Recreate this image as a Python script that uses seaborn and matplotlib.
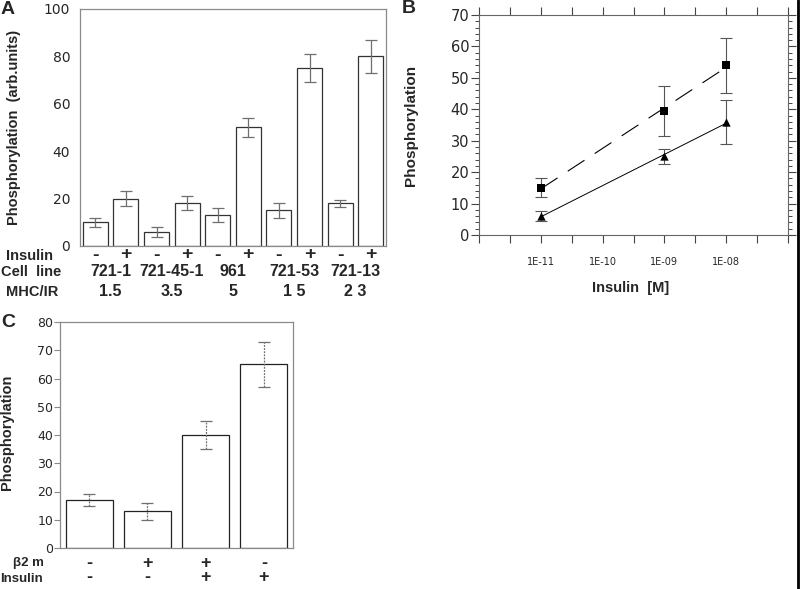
import numpy as np
import pandas as pd
import matplotlib
matplotlib.use("Agg")
import matplotlib.pyplot as plt
import matplotlib.transforms as mtransforms
from matplotlib.lines import Line2D
from matplotlib.ticker import FixedLocator, MultipleLocator, NullFormatter
import seaborn as sns

# ==========================================
# DATA
# ==========================================

# Panel A - insulin stimulated phosphorylation per cell line
a_insulin = ["-", "+", "-", "+", "-", "+", "-", "+", "-", "+"]
a_values = [10, 20, 6, 18, 13, 50, 15, 75, 18, 80]
a_errors = [2, 3, 2, 3, 3, 4, 3, 6, 1.5, 7]
a_cell_lines = ["721-1", "721-45-1", "961", "721-53", "721-13"]
a_mhc_ir = ["1.5", "3.5", "5", "1 5", "2 3"]

# Panel B - dose response
b_insulin = [1e-11, 1e-9, 1e-8]
b_square = [15, 39.5, 54]
b_square_err = [3, 7.9, 8.7]
b_triangle = [6, 25, 36]
b_triangle_err = [1.5, 2.4, 7.1]
b_tick_labels = ["1E-11", "1E-10", "1E-09", "1E-08"]

# Panel C - beta2m / insulin
c_b2m = ["-", "+", "+", "-"]
c_insulin = ["-", "-", "+", "+"]
c_values = [17, 13, 40, 65]
c_errors = [2, 3, 5, 8]

# ==========================================
# STYLE
# ==========================================

sns.set_theme(style="white")
plt.rcParams['font.family'] = ['DejaVu Sans']
BOLD = ['Liberation Sans', 'DejaVu Sans']
SPINE = "#8a8a8a"

W, H = 800, 589


def fy(px):
    # pixel row -> figure fraction
    return 1 - px / H


fig = plt.figure(figsize=(W / 100, H / 100), dpi=100)

# ==========================================
# PANEL A
# ==========================================
ax_a = fig.add_axes([80 / W, fy(246), 306 / W, 237 / H])
df_a = pd.DataFrame({
    "bar": [f"{c}{s}{i}" for i, (c, s) in enumerate(zip(np.repeat(a_cell_lines, 2), a_insulin))],
    "value": a_values,
})
sns.barplot(data=df_a, x="bar", y="value", color="white", saturation=1,
            edgecolor="#333333", linewidth=0.9, width=0.82, errorbar=None, ax=ax_a)
ax_a.errorbar(range(len(a_values)), a_values, yerr=a_errors, fmt="none",
              ecolor="#6f6f6f", elinewidth=0.9, capsize=4, capthick=0.9)
ax_a.set_xlim(-0.5, len(a_values) - 0.5)
ax_a.set_ylim(0, 100)
ax_a.yaxis.set_major_locator(MultipleLocator(20))
ax_a.tick_params(axis="y", length=0, pad=7, labelsize=10)
ax_a.set_xticks([])
ax_a.set_xlabel("")
ax_a.set_ylabel("Phosphorylation  (arb.units)", family=BOLD, fontweight="bold", fontsize=10.5)
ax_a.yaxis.set_label_coords(-0.193, 0.5)
for sp in ax_a.spines.values():
    sp.set_color(SPINE)
    sp.set_linewidth(0.9)

tr_a = mtransforms.blended_transform_factory(ax_a.transData, fig.transFigure)
for i, s in enumerate(a_insulin):
    ax_a.text(i, fy(255), s, transform=tr_a, ha="center", va="center",
              family=BOLD, fontweight="bold", fontsize=14)
for k, (cl, mr) in enumerate(zip(a_cell_lines, a_mhc_ir)):
    xc = 2 * k + 0.5
    ax_a.text(xc, fy(271), cl, transform=tr_a, ha="center", va="center",
              family=BOLD, fontweight="bold", fontsize=11.5)
    ax_a.text(xc, fy(292), mr, transform=tr_a, ha="center", va="center",
              family=BOLD, fontweight="bold", fontsize=11.5)
fig.text(6 / W, fy(256), "Insulin", ha="left", va="center", family=BOLD, fontweight="bold", fontsize=10.5)
fig.text(1 / W, fy(272), "Cell  line", ha="left", va="center", family=BOLD, fontweight="bold", fontsize=10.5)
fig.text(6 / W, fy(292), "MHC/IR", ha="left", va="center", family=BOLD, fontweight="bold", fontsize=10.5)

# ==========================================
# PANEL B
# ==========================================
ax_b = fig.add_axes([479 / W, fy(235), 309 / W, 220 / H])
ax_b.set_xscale("log")
sns.regplot(x=b_insulin, y=b_square, logx=True, ci=None, scatter=False, color="black",
            line_kws=dict(lw=0.8, dashes=(18, 11)), ax=ax_b)
sns.regplot(x=b_insulin, y=b_triangle, logx=True, ci=None, scatter=False, color="black",
            line_kws=dict(lw=0.7), ax=ax_b)
ax_b.errorbar(b_insulin, b_square, yerr=b_square_err, fmt="none", ecolor="#555555",
              elinewidth=0.8, capsize=4, capthick=0.8)
ax_b.errorbar(b_insulin, b_triangle, yerr=b_triangle_err, fmt="none", ecolor="#555555",
              elinewidth=0.8, capsize=4, capthick=0.8)
sns.scatterplot(x=b_insulin, y=b_square, marker="s", s=32, color="black",
                edgecolor="black", linewidth=0, ax=ax_b, zorder=5)
sns.scatterplot(x=b_insulin, y=b_triangle, marker="^", s=36, color="black",
                edgecolor="black", linewidth=0, ax=ax_b, zorder=5)

ax_b.set_xlim(1e-12, 1e-7)
ax_b.set_ylim(0, 70)
decades = 10.0 ** np.arange(-12, -6)
ax_b.xaxis.set_major_locator(FixedLocator(decades))
ax_b.set_xticklabels([""] + b_tick_labels + [""])
ax_b.xaxis.set_minor_locator(FixedLocator(decades[:-1] * 10 ** 0.5))
ax_b.xaxis.set_minor_formatter(NullFormatter())
ax_b.yaxis.set_major_locator(MultipleLocator(10))
ax_b.yaxis.set_minor_locator(MultipleLocator(2))
ax_b.tick_params(axis="x", which="both", direction="out", length=6, width=0.8,
                 color="#444444", top=True, bottom=True, pad=10, labelsize=7)
ax_b.tick_params(axis="y", which="major", direction="out", length=6, width=0.8,
                 color="#444444", left=True, right=True, pad=1, labelsize=10.5)
ax_b.tick_params(axis="y", which="minor", direction="out", length=3, width=0.7,
                 color="#444444", left=True, right=True)
ax_b.set_xlabel("Insulin  [M]", family=BOLD, fontweight="bold", fontsize=10.5)
ax_b.xaxis.set_label_coords(0.49, -0.21)
ax_b.set_ylabel("Phosphorylation", family=BOLD, fontweight="bold", fontsize=11)
ax_b.yaxis.set_label_coords(-0.197, 0.5)
for sp in ax_b.spines.values():
    sp.set_color("#666666")
    sp.set_linewidth(0.8)

# ==========================================
# PANEL C
# ==========================================
ax_c = fig.add_axes([60 / W, fy(548), 233 / W, 226 / H])
df_c = pd.DataFrame({
    "bar": [f"{b}{s}{i}" for i, (b, s) in enumerate(zip(c_b2m, c_insulin))],
    "value": c_values,
})
sns.barplot(data=df_c, x="bar", y="value", color="white", saturation=1,
            edgecolor="#222222", linewidth=0.9, width=0.81, errorbar=None, ax=ax_c)
eb = ax_c.errorbar(range(len(c_values)), c_values, yerr=c_errors, fmt="none",
                   ecolor="#6f6f6f", elinewidth=0.9, capsize=4, capthick=0.9)
for col in eb.lines[2]:
    col.set_linestyle((0, (1.5, 1)))
ax_c.set_xlim(-0.5, len(c_values) - 0.5)
ax_c.set_ylim(0, 80)
ax_c.yaxis.set_major_locator(MultipleLocator(10))
ax_c.tick_params(axis="y", left=True, direction="out", length=4, width=0.8,
                 color=SPINE, pad=1, labelsize=9)
ax_c.set_xticks([])
ax_c.set_xlabel("")
ax_c.set_ylabel("Phosphorylation", family=BOLD, fontweight="bold", fontsize=10.5)
ax_c.yaxis.set_label_coords(-0.197, 0.51)
for sp in ax_c.spines.values():
    sp.set_color(SPINE)
    sp.set_linewidth(0.9)

# both sign rows go in one two-line text per bar
tr_c = mtransforms.blended_transform_factory(ax_c.transData, fig.transFigure)
for i, (b, s) in enumerate(zip(c_b2m, c_insulin)):
    ax_c.text(i, fy(570.5), f"{b}\n{s}", transform=tr_c, ha="center", va="center",
              multialignment="center", linespacing=0.83,
              family=BOLD, fontweight="bold", fontsize=13)
fig.text(13 / W, fy(563), "β2 m", ha="left", va="center", family=BOLD, fontweight="bold", fontsize=9.5)
fig.text(0 / W, fy(578.5), "Insulin", ha="left", va="center", family=BOLD, fontweight="bold", fontsize=9.5)

# panel letters
fig.text(1 / W, fy(1), "A", ha="left", va="top", family=BOLD, fontweight="bold", fontsize=14)
fig.text(402 / W, fy(0), "B", ha="left", va="top", family=BOLD, fontweight="bold", fontsize=14)
fig.text(1 / W, fy(314), "C", ha="left", va="top", family=BOLD, fontweight="bold", fontsize=14)

# dark border on the right edge of the scan
fig.add_artist(Line2D([0.9975, 0.9975], [0, 1], transform=fig.transFigure, color="black", lw=2))

fig.savefig("out.png", dpi=100, facecolor="white")
